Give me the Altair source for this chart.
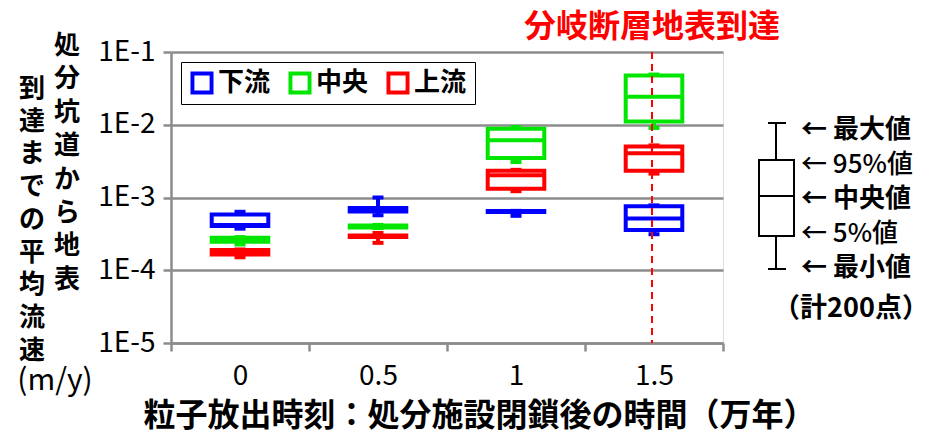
import altair as alt
import pandas as pd

categories = ["0", "0.5", "1", "1.5"]
series_names = ["下流", "中央", "上流"]
series_colors = ["#0000ff", "#00e600", "#ff0000"]

# values per series, one per category (min, 5%, median, 95%, max)
down_min = [3.73e-4, 5.7e-4, 5.6e-4, 3.13e-4]
down_q05 = [4.06e-4, 6.4e-4, 6.3e-4, 3.58e-4]
down_med = [4.2e-4, 6.8e-4, 6.4e-4, 5.14e-4]
down_q95 = [5.85e-4, 7.2e-4, 6.5e-4, 7.56e-4]
down_max = [6.36e-4, 1.0e-3, 6.55e-4, 7.8e-4]

mid_min = [2.26e-4, 3.8e-4, 3.07e-3, 9.04e-3]
mid_q05 = [2.47e-4, 3.87e-4, 3.48e-3, 1.11e-2]
mid_med = [2.6e-4, 4.0e-4, 6.1e-3, 2.42e-2]
mid_q95 = [2.8e-4, 4.12e-4, 8.81e-3, 4.74e-2]
mid_max = [2.85e-4, 4.2e-4, 9.3e-3, 4.9e-2]

up_min = [1.51e-4, 2.38e-4, 1.22e-3, 2.13e-3]
up_q05 = [1.65e-4, 2.87e-4, 1.32e-3, 2.34e-3]
up_med = [1.75e-4, 2.95e-4, 2.02e-3, 4.07e-3]
up_q95 = [1.9e-4, 3.0e-4, 2.34e-3, 5.04e-3]
up_max = [1.93e-4, 3.25e-4, 2.4e-3, 5.2e-3]

y_ticks = [1e-5, 1e-4, 1e-3, 1e-2, 1e-1]
fault_category = "1.5"
fault_label = "分岐断層地表到達"
x_title = "粒子放出時刻：処分施設閉鎖後の時間（万年）"
y_title_right = list("処分坑道から地表")
y_title_left = list("到達までの平均流速")
y_unit = "(m/y)"
key_labels = ["← 最大値", "← 95%値", "← 中央値", "← 5%値", "← 最小値"]
key_bold = [True, False, True, False, True]
key_note = "（計200点）"

FONT = "Noto Sans CJK JP"
GRAY = "#8c8c8c"
HOLLOW_SQUARE = "M-1,-1H1V1H-1Z M-0.66,-0.66V0.66H0.66V-0.66Z"

rows = []
for name, mn, q05, med, q95, mx in [
    ("下流", down_min, down_q05, down_med, down_q95, down_max),
    ("中央", mid_min, mid_q05, mid_med, mid_q95, mid_max),
    ("上流", up_min, up_q05, up_med, up_q95, up_max),
]:
    for i, c in enumerate(categories):
        rows.append({"cat": c, "series": name, "min": mn[i], "q05": q05[i],
                     "med": med[i], "q95": q95[i], "max": mx[i]})
df = pd.DataFrame(rows)

xscale = alt.Scale(domain=categories, paddingInner=0, paddingOuter=0)
xaxis = alt.Axis(labelAngle=0, tickBand="extent", domainColor=GRAY, tickColor=GRAY,
                 domainWidth=2.5, tickWidth=2.5, tickSize=8, labelFontSize=28,
                 labelColor="black", labelPadding=11, labelFont=FONT,
                 title=x_title, titleX=308, titleY=72, titleFontSize=32,
                 titleFontWeight="bold", titleAlign="center", titleBaseline="middle",
                 titleColor="black", titleFont=FONT, grid=False)
yscale = alt.Scale(type="log", domain=[1e-5, 1e-1], nice=False)
yaxis = alt.Axis(values=y_ticks, labelExpr="'1E' + round(log(datum.value)/LN10)",
                 grid=True, gridColor=GRAY, gridWidth=2.5, domainColor=GRAY,
                 domainWidth=2.5, tickColor=GRAY, tickWidth=2.5, tickSize=8,
                 labelFontSize=28, labelColor="black", labelPadding=8, labelFont=FONT,
                 title=None)


def Y(field):
    return alt.Y(f"{field}:Q", scale=yscale, axis=yaxis, title=None)


cscale = alt.Scale(domain=series_names, range=series_colors)
color = alt.Color("series:N", scale=cscale,
                  legend=alt.Legend(orient="none", legendX=10, legendY=10,
                                    direction="horizontal", title=None,
                                    symbolType=HOLLOW_SQUARE, symbolSize=530,
                                    symbolStrokeWidth=0, symbolOpacity=1,
                                    labelFontSize=26,
                                    labelFontWeight="bold", labelColor="black",
                                    labelFont=FONT, strokeColor="black",
                                    fillColor="white", padding=8, columnPadding=16,
                                    labelOffset=3))
stroke = alt.Stroke("series:N", scale=cscale, legend=None)
fill = alt.Fill("series:N", scale=cscale, legend=None)

X = alt.X("cat:N", scale=xscale, axis=xaxis, sort=categories)
base = alt.Chart(df).encode(x=X)

box = base.mark_bar(filled=False, strokeWidth=4, opacity=1,
                    width=alt.RelativeBandSize(0.41)).encode(y=Y("q05"), y2="q95:Q",
                                                             stroke=stroke)
lower = base.mark_rule(strokeWidth=4, opacity=1).encode(y=Y("min"), y2="q05:Q",
                                                        stroke=stroke)
upper = base.mark_rule(strokeWidth=4, opacity=1).encode(y=Y("q95"), y2="max:Q",
                                                        stroke=stroke)
cap_lo = base.mark_tick(size=11, thickness=4, opacity=1).encode(y=Y("min"), color=color)
cap_hi = base.mark_tick(size=11, thickness=4, opacity=1).encode(y=Y("max"), fill=fill)
median = base.mark_tick(size=57, thickness=4, opacity=1).encode(y=Y("med"), fill=fill)

fault_df = pd.DataFrame({"cat": [fault_category], "label": [fault_label]})
fault_line = alt.Chart(fault_df).mark_rule(color="#ff0000", strokeDash=[7, 5],
                                           strokeWidth=2, xOffset=-2).encode(
    x=alt.X("cat:N", scale=xscale, axis=xaxis))
fault_text = alt.Chart(fault_df).mark_text(color="#ff0000", fontSize=32, fontWeight="bold",
                                           font=FONT, baseline="middle", dx=-2).encode(
    x=alt.X("cat:N", scale=xscale, axis=xaxis), y=alt.value(-25), text="label:N")

one = alt.Data(values=[{"k": 0}])
ytl = alt.Chart(one).mark_text(text=y_title_right, fontSize=26, fontWeight="bold",
                               font=FONT, lineHeight=33.4, baseline="top",
                               align="center", color="black").encode(
    x=alt.value(-104), y=alt.value(-19))
ytl2 = alt.Chart(one).mark_text(text=y_title_left, fontSize=26, fontWeight="bold",
                                font=FONT, lineHeight=32.7, baseline="top",
                                align="center", color="black").encode(
    x=alt.value(-139), y=alt.value(24))
yunit = alt.Chart(one).mark_text(text=y_unit, fontSize=30, font=FONT,
                                 baseline="middle", align="center", color="black").encode(
    x=alt.value(-116), y=alt.value(329))

K = dict(color="black", strokeWidth=2)
k_whisk = alt.Chart(one).mark_rule(**K).encode(x=alt.value(605), y=alt.value(71),
                                               y2=alt.value(217))
k_box = alt.Chart(one).mark_rect(fill="white", stroke="black", strokeWidth=2).encode(
    x=alt.value(588), x2=alt.value(623), y=alt.value(108), y2=alt.value(184))
k_med = alt.Chart(one).mark_rule(**K).encode(x=alt.value(588), x2=alt.value(623),
                                             y=alt.value(144))
k_cap1 = alt.Chart(one).mark_rule(**K).encode(x=alt.value(597), x2=alt.value(615),
                                              y=alt.value(71))
k_cap2 = alt.Chart(one).mark_rule(**K).encode(x=alt.value(597), x2=alt.value(615),
                                              y=alt.value(217))
k_texts = []
for i, (lab, b) in enumerate(zip(key_labels, key_bold)):
    k_texts.append(alt.Chart(one).mark_text(
        text=lab, fontSize=26, fontWeight="bold" if b else 500, font=FONT,
        baseline="middle", align="left", color="black").encode(
        x=alt.value(630), y=alt.value(78 + 34.5 * i)))
k_note = alt.Chart(one).mark_text(text=key_note, fontSize=27, fontWeight="bold",
                                  font=FONT, baseline="middle", align="center",
                                  color="black").encode(x=alt.value(680), y=alt.value(257))

chart = alt.layer(
    cap_lo, box, lower, upper, cap_hi, median, fault_line, fault_text,
    ytl, ytl2, yunit, k_whisk, k_box, k_med, k_cap1, k_cap2, *k_texts, k_note
).properties(
    width=552, height=291,
    padding={"left": 163, "top": 44, "right": 212, "bottom": 92},
    autosize=alt.AutoSizeParams(type="none"),
).configure_view(stroke=None).configure(font=FONT)

chart.save("out.html", embed_options={"renderer": "svg", "actions": False})
